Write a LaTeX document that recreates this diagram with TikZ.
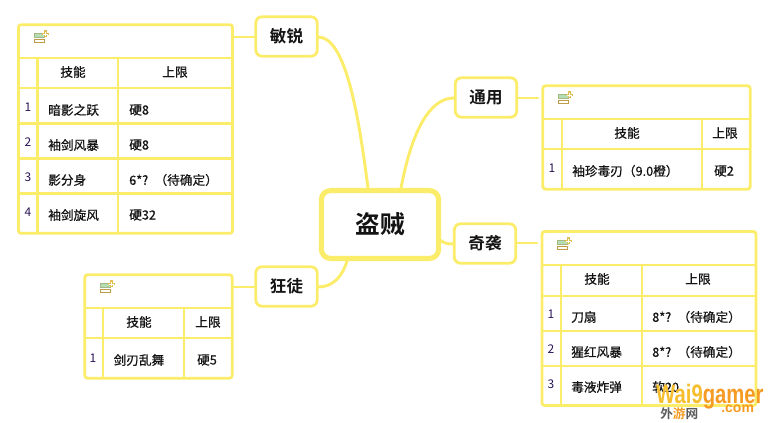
\documentclass[tikz,border=0pt]{standalone}
\usepackage{fontspec}
\setmainfont{Noto Sans CJK SC}[BoldFont={Noto Sans CJK SC Bold}]
\newfontfamily\cellfont{Noto Sans CJK SC}[FakeBold=0.7]
\newfontfamily\wmfont{Liberation Sans}[BoldFont={Liberation Sans Bold}]
\definecolor{mm}{HTML}{FBEC6A}
\definecolor{ink}{HTML}{141414}
\definecolor{numink}{HTML}{2A1458}
\definecolor{icongreen}{HTML}{B4DDB6}
\definecolor{icongreenb}{HTML}{A3B884}
\definecolor{icontan}{HTML}{C09C48}
\definecolor{icongold}{HTML}{E0BE52}
\definecolor{wmgold}{HTML}{F6BE2E}
\definecolor{wmorange}{HTML}{F59A23}
\tikzset{
  x=0.75pt,y=-0.75pt,
  link/.style={draw=mm,line width=2.2pt,line cap=round},
  grid/.style={draw=mm,line width=2.1pt},
  frame/.style={draw=mm,line width=2.1pt,rounded corners=2pt,inner sep=0pt},
  topic/.style={draw=mm,line width=2.1pt,rounded corners=4.5pt,fill=white,text=ink,
    font=\fontsize{12.4pt}{14pt}\selectfont\bfseries,inner sep=0pt,minimum width=46pt,minimum height=29.5pt},
  centre/.style={draw=mm,line width=3.8pt,rounded corners=7pt,fill=white,text=ink,
    font=\fontsize{18.5pt}{20pt}\selectfont\bfseries,inner sep=0pt,minimum width=88pt,minimum height=51pt},
  cell/.style={font=\fontsize{9.5pt}{11pt}\cellfont,text=ink,inner sep=0pt},
  lcell/.style={cell,anchor=west},
  num/.style={font=\fontsize{9pt}{11pt}\selectfont,text=numink,inner sep=0pt}
}
\newcommand{\noteicon}[2]{%
  \filldraw[draw=icongreenb,fill=icongreen,line width=0.55pt] (#1+.5,#2+2.2) rectangle +(9.5,4.3);
  \filldraw[draw=icontan,fill=white,line width=0.7pt] (#1+.5,#2+8) rectangle +(9.5,3.5);
  \draw[draw=icongold,line width=2.1pt] (#1+8.2,#2+3) -- +(7,0) (#1+11.7,#2-.5) -- +(0,7);
  \draw[draw=white,line width=0.7pt] (#1+9.4,#2+3) -- +(4.6,0) (#1+11.7,#2+.7) -- +(0,4.6);
}
\newcommand{\lowered}[1]{\raisebox{-0.8pt}{#1}}
\begin{document}
\begin{tikzpicture}
\useasboundingbox (0,0) rectangle (773,423);
% connector ends
\coordinate (rA) at (368,188);
\coordinate (rG) at (401,188);
\coordinate (rB) at (440,240);
\coordinate (rO) at (347,261);
\coordinate (s1) at (233,37);
\coordinate (s2) at (538,98);
\coordinate (s3) at (537,243);
\coordinate (s4) at (233,287);
\coordinate (a1) at (318,37);
\coordinate (a0) at (255,37);
\coordinate (g1) at (454,98);
\coordinate (g0) at (518,98);
\coordinate (b1) at (453,244);
\coordinate (b0) at (517,243);
\coordinate (o1) at (318,287);
\coordinate (o0) at (255,287);
% connectors
\draw[link] (a1) .. controls (345,37) and (358,110) .. (rA);
\draw[link] (g1) .. controls (430,98) and (412,130) .. (rG);
\draw[link] (b1) .. controls (447,244) and (444,243) .. (rB);
\draw[link] (o1) .. controls (333,287) and (342,277) .. (rO);
\draw[link] (a0) -- (s1);
\draw[link] (g0) -- (s2);
\draw[link] (b0) -- (s3);
\draw[link] (o0) -- (s4);
% topic nodes
\node[centre] (root) at (380,224.5) {\lowered{盗贼}};
\node[topic] (agi) at (286.5,36.5) {\lowered{敏锐}};
\node[topic] (gen) at (486,97.5) {\lowered{通用}};
\node[topic] (amb) at (485,243.5) {\lowered{奇袭}};
\node[topic] (out) at (286.5,286.5) {\lowered{狂徒}};
% table frames
\node[frame,minimum width=160.5pt,minimum height=156.5pt] (t1) at (125.5,129) {};
\node[frame,minimum width=155.5pt,minimum height=77.5pt] (t2) at (646.5,137.5) {};
\node[frame,minimum width=160.5pt,minimum height=130.5pt] (t3) at (649,318.5) {};
\node[frame,minimum width=110.5pt,minimum height=77.5pt] (t4) at (158.5,326.5) {};
% grids
\draw[grid] (18.5,58)--(232.5,58) (18.5,88)--(232.5,88) (18.5,123.5)--(232.5,123.5) (18.5,158.5)--(232.5,158.5) (18.5,193.5)--(232.5,193.5)
  (37.5,58)--(37.5,233.5) (118,58)--(118,233.5);
\draw[grid] (542.5,119)--(750,119) (542.5,149)--(750,149) (562,119)--(562,189.5) (702,119)--(702,189.5);
\draw[grid] (541.5,265)--(756.5,265) (541.5,296)--(756.5,296) (541.5,331)--(756.5,331) (541.5,366)--(756.5,366)
  (561,265)--(561,405.5) (642,265)--(642,405.5);
\draw[grid] (85,308)--(232,308) (85,338)--(232,338) (103,308)--(103,378.5) (184,308)--(184,378.5);
% icons
\noteicon{34}{31}
\noteicon{558}{92}
\noteicon{557}{238}
\noteicon{100}{281}
% table 1
\node[cell] (a1t) at (73,72) {技能};
\node[cell] (a2t) at (175,72) {上限};
\node[num] (an1) at (28,107) {1};
\node[num] (an2) at (28,142) {2};
\node[num] (an3) at (28,177) {3};
\node[num] (an4) at (28,212) {4};
\node[lcell] (a11) at (48,110) {暗影之跃};
\node[lcell] (a21) at (48,145) {袖剑风暴};
\node[lcell] (a31) at (48,180) {影分身};
\node[lcell] (a41) at (48,215) {袖剑旋风};
\node[lcell] (a12) at (129,110) {硬8};
\node[lcell] (a22) at (129,145) {硬8};
\node[lcell] (a32) at (129,180) {6*?\hspace{0.5em}（待确定）};
\node[lcell] (a42) at (129,215) {硬32};
% table 2
\node[cell] (b1t) at (627,133) {技能};
\node[cell] (b2t) at (725,133) {上限};
\node[num] (bn1) at (552,168) {1};
\node[lcell] (b11) at (572,171) {袖珍毒刃（9.0橙）};
\node[cell] (b12) at (724,171) {硬2};
% table 3
\node[cell] (c1) at (597,279) {技能};
\node[cell] (c2) at (698,279) {上限};
\node[num] (cn1) at (551,314) {1};
\node[num] (cn2) at (551,349) {2};
\node[num] (cn3) at (551,384) {3};
\node[lcell] (c11) at (571,317) {刀扇};
\node[lcell] (c21) at (571,352) {猩红风暴};
\node[lcell] (c31) at (571,387) {毒液炸弹};
\node[lcell] (c12) at (652,317) {8*?\hspace{0.5em}（待确定）};
\node[lcell] (c22) at (652,352) {8*?\hspace{0.5em}（待确定）};
\node[lcell] (c32) at (652,387) {软20};
% table 4
\node[cell] (d1) at (139,322) {技能};
\node[cell] (d2) at (208,322) {上限};
\node[num] (dn1) at (93,358) {1};
\node[cell] (d11) at (139,360) {剑刃乱舞};
\node[cell] (d12) at (207,360) {硬5};
% watermark
\node[font=\wmfont\fontsize{20pt}{22pt}\selectfont\bfseries,text=wmgold,inner sep=0pt,anchor=west,xscale=0.76] (wm1) at (656,397) {Wai9\textcolor{wmorange}{gamer}};
\node[font=\wmfont\fontsize{10.5pt}{12pt}\selectfont\bfseries,text=wmorange,inner sep=0pt,anchor=west] (wm2) at (721,409) {.com};
\node[font=\fontsize{9.5pt}{11pt}\selectfont\bfseries,text=ink!70,inner sep=0pt,anchor=west] (wm3) at (660,414) {外\textcolor{wmorange}{游}网};
\end{tikzpicture}
\end{document}
